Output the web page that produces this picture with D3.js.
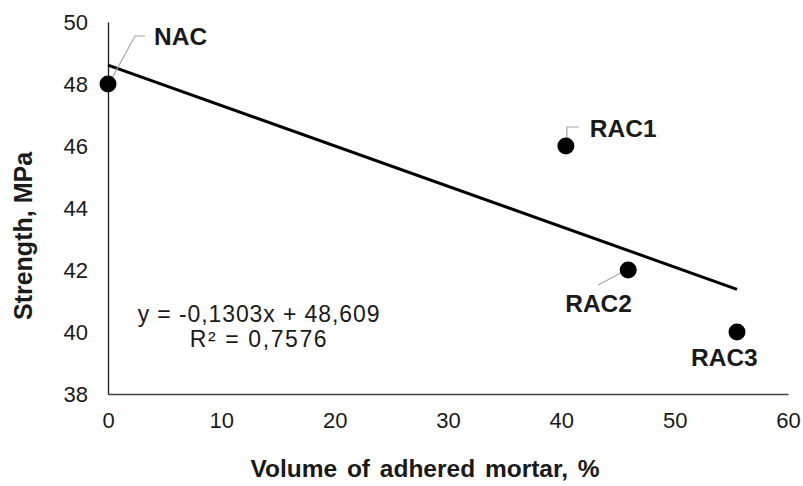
<!doctype html>
<html>
<head>
  <meta charset="utf-8">
  <title>Strength vs adhered mortar</title>
  <style>
    body { margin: 0; background: #fff; }
    svg text { font-family: "Liberation Sans", Arial, sans-serif; fill: #1a1a1a; }
  </style>
</head>
<body>
  <div id="vis"></div>
  <script src="https://cdn.jsdelivr.net/npm/d3@7"></script>
  <script>

    var labels = ["NAC", "RAC1", "RAC2", "RAC3"];
    var mortar = [0, 40.4, 45.9, 55.5];
    var strength = [48, 46, 42, 40];
    var xTicks = [0, 10, 20, 30, 40, 50, 60];
    var yTicks = [38, 40, 42, 44, 46, 48, 50];
    var slope = -0.1303, intercept = 48.609;
    var eqLines = ["y = -0,1303x + 48,609", "R² = 0,7576"];

    var w = 803, h = 486;
    var margin = {left: 108, top: 22, right: 15, bottom: 92};

    var svg = d3.select("#vis").append("svg")
      .attr("width", w)
      .attr("height", h);

    var x = d3.scaleLinear()
      .domain([0, 60])
      .range([margin.left, w - margin.right]);

    var y = d3.scaleLinear()
      .domain([38, 50])
      .range([h - margin.bottom, margin.top]);

    // axes
    var xAxis = svg.append("g")
      .attr("transform", "translate(0," + y(38) + ")")
      .call(d3.axisBottom(x).tickValues(xTicks).tickSize(0).tickPadding(18));
    xAxis.select(".domain").attr("stroke", "#404040").attr("stroke-width", 1.3);
    xAxis.selectAll("text").attr("font-size", 22).attr("fill", "#1a1a1a");

    var yAxis = svg.append("g")
      .attr("transform", "translate(" + x(0) + ",0)")
      .call(d3.axisLeft(y).tickValues(yTicks).tickSize(0).tickPadding(20));
    yAxis.select(".domain").attr("stroke", "#1a1a1a").attr("stroke-width", 1.3);
    yAxis.selectAll("text").attr("font-size", 22).attr("fill", "#1a1a1a");

    // axis titles
    svg.append("text")
      .attr("x", 425)
      .attr("y", 477)
      .attr("text-anchor", "middle")
      .attr("font-size", 24.5)
      .attr("font-weight", "bold")
      .attr("word-spacing", 3)
      .text("Volume of adhered mortar, %");

    svg.append("text")
      .attr("transform", "translate(32," + 236 + ") rotate(-90)")
      .attr("text-anchor", "middle")
      .attr("font-size", 25)
      .attr("font-weight", "bold")
      .text("Strength, MPa");

    // trend line
    var xMax = d3.max(mortar);
    svg.append("line")
      .attr("x1", x(0))
      .attr("y1", y(intercept))
      .attr("x2", x(xMax))
      .attr("y2", y(slope * xMax + intercept))
      .attr("stroke", "#000")
      .attr("stroke-width", 3);

    // leader lines and labels
    var labelPos = [
      {dx: 46, dy: -39, leader: [[3, -4], [27, -48], [37, -48]]},
      {dx: 24, dy: -9, leader: [[1, -3], [1, -19], [13, -19]]},
      {dx: -63, dy: 42, leader: [[-2, 0], [-30, 15]]},
      {dx: -46, dy: 34, leader: null}
    ];

    labels.forEach(function(d, i) {
      var px = x(mortar[i]), py = y(strength[i]);
      var p = labelPos[i];
      if (p.leader) {
        svg.append("path")
          .attr("d", d3.line()(p.leader.map(function(q) { return [px + q[0], py + q[1]]; })))
          .attr("fill", "none")
          .attr("stroke", "#a6a6a6")
          .attr("stroke-width", 1.2);
      }
    });

    svg.selectAll("circle")
      .data(labels)
      .enter()
      .append("circle")
      .attr("cx", function(d, i) { return x(mortar[i]); })
      .attr("cy", function(d, i) { return y(strength[i]); })
      .attr("r", 8.5)
      .attr("fill", "#000");

    svg.selectAll("text.lbl")
      .data(labels)
      .enter()
      .append("text")
      .attr("class", "lbl")
      .attr("x", function(d, i) { return x(mortar[i]) + labelPos[i].dx; })
      .attr("y", function(d, i) { return y(strength[i]) + labelPos[i].dy; })
      .attr("font-size", 24.5)
      .attr("font-weight", "bold")
      .text(function(d) { return d; });

    // equation
    svg.selectAll("text.eq")
      .data(eqLines)
      .enter()
      .append("text")
      .attr("class", "eq")
      .attr("x", 259)
      .attr("y", function(d, i) { return 322 + i * 25; })
      .attr("text-anchor", "middle")
      .attr("font-size", 23)
      .attr("letter-spacing", function(d, i) { return i ? 1.6 : 0.9; })
      .text(function(d) { return d; });

  </script>
</body>
</html>
